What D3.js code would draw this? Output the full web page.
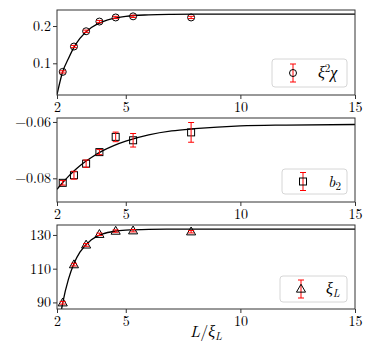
<!DOCTYPE html>
<html><head><meta charset="utf-8">
<script src="https://cdn.jsdelivr.net/npm/d3@7"></script>
<style>
body{margin:0;background:#fff;}
svg{display:block;}
svg text{font-family:"Latin Modern Roman","CMU Serif","Liberation Serif",serif !important;}
</style></head>
<body><svg id="c" width="378" height="344"></svg>
<script>
// ---- data ----
const xVals = [2.25, 2.74, 3.27, 3.85, 4.56, 5.32, 7.85];
const chiVals = [0.077, 0.145, 0.186, 0.212, 0.223, 0.226, 0.223];
const chiErr  = [0.003, 0.003, 0.003, 0.003, 0.003, 0.003, 0.003];
const b2Vals  = [-0.0816, -0.0789, -0.0748, -0.0707, -0.0653, -0.0665, -0.0637];
const b2Err   = [0.0008, 0.0014, 0.0013, 0.0009, 0.0017, 0.0024, 0.0035];
const xiVals  = [89.8, 112.4, 124.1, 130.4, 132.3, 132.5, 131.9];
const xiErr   = [0.8, 0.8, 0.8, 0.7, 0.7, 0.7, 0.7];
const fitX    = [2, 2.25, 2.5, 2.75, 3, 3.5, 4, 4.5, 5, 6, 7, 8, 10, 12, 15];
const chiFit  = [0.016, 0.078, 0.113, 0.144, 0.167, 0.196, 0.212, 0.221, 0.226, 0.230, 0.2315, 0.232, 0.232, 0.232, 0.232];
const b2Fit   = [-0.0839, -0.0815, -0.0793, -0.0773, -0.0755, -0.0726, -0.0702, -0.0683, -0.0668, -0.0646, -0.0632, -0.0624, -0.0614, -0.0611, -0.0609];
const xiFit   = [69.0, 89.8, 103.8, 113.4, 119.8, 127.2, 130.6, 132.2, 132.9, 133.35, 133.45, 133.5, 133.5, 133.5, 133.5];
const xTicks  = [2, 5, 10, 15];
const chiTicks = [0.1, 0.2];
const b2Ticks  = [-0.08, -0.06];
const xiTicks  = [90, 110, 130];
const xLabel = "L/ξL";

const svg = d3.select("#c");
const left = 57, right = 355;
const x = d3.scaleLinear().domain([2, 15]).range([left, right]);

const panels = [
  {top: 10, bottom: 95, domain: [0.015, 0.243], vals: chiVals, err: chiErr, fit: chiFit, ticks: chiTicks, fmt: d3.format(".1f"), marker: "circle", legend: [272, 347, 59, 87], leg: "chi"},
  {top: 118, bottom: 202, domain: [-0.0884, -0.0586], vals: b2Vals, err: b2Err, fit: b2Fit, ticks: b2Ticks, fmt: d3.format(".2f"), marker: "square", legend: [282, 347, 169, 194], leg: "b2"},
  {top: 225, bottom: 309, domain: [86.1, 135.9], vals: xiVals, err: xiErr, fit: xiFit, ticks: xiTicks, fmt: d3.format("d"), marker: "triangle", legend: [280, 347, 276, 302], leg: "xi"}
];

function drawMarker(g, type, cx, cy) {
  if (type === "circle") {
    g.append("circle").attr("cx", cx).attr("cy", cy).attr("r", 3.5)
      .attr("fill", "none").attr("stroke", "#000").attr("stroke-width", 1);
  } else if (type === "square") {
    g.append("rect").attr("x", cx - 3.5).attr("y", cy - 3.5).attr("width", 7).attr("height", 7)
      .attr("fill", "none").attr("stroke", "#000").attr("stroke-width", 1);
  } else {
    const s = d3.symbol().type(d3.symbolTriangle).size(36)();
    g.append("path").attr("d", s).attr("transform", `translate(${cx},${cy + 0.5})`)
      .attr("fill", "none").attr("stroke", "#000").attr("stroke-width", 1);
  }
}
function drawErr(g, cx, y1, y2) {
  g.append("line").attr("x1", cx).attr("x2", cx).attr("y1", y1).attr("y2", y2).attr("stroke", "red").attr("stroke-width", 1);
  [y1, y2].forEach(yy => g.append("line").attr("x1", cx - 3).attr("x2", cx + 3).attr("y1", yy).attr("y2", yy).attr("stroke", "red").attr("stroke-width", 1));
}

panels.forEach((p, i) => {
  const y = d3.scaleLinear().domain(p.domain).range([p.bottom, p.top]);
  const g = svg.append("g");
  const cid = "clip" + i;
  svg.append("clipPath").attr("id", cid).append("rect")
    .attr("x", left).attr("y", p.top).attr("width", right - left).attr("height", p.bottom - p.top);

  const xa = g.append("g").attr("transform", `translate(0,${p.bottom})`)
    .call(d3.axisBottom(x).tickValues(xTicks).tickSize(4).tickPadding(3).tickFormat(d3.format("d")));
  const ya = g.append("g").attr("transform", `translate(${left},0)`)
    .call(d3.axisLeft(y).tickValues(p.ticks).tickSize(4).tickPadding(2).tickFormat(p.fmt));
  [xa, ya].forEach(a => {
    a.attr("font-family", null);
    a.select(".domain").remove();
    a.selectAll("line").attr("stroke", "#333");
    a.selectAll("text").attr("font-size", 14).attr("fill", "#000");
  });

  const line = d3.line().x((d, j) => x(fitX[j])).y(d => y(d)).curve(d3.curveMonotoneX);
  g.append("path").datum(p.fit).attr("d", line).attr("clip-path", `url(#${cid})`)
    .attr("fill", "none").attr("stroke", "#000").attr("stroke-width", 1.3);

  const dg = g.append("g").attr("clip-path", `url(#${cid})`);
  p.vals.forEach((v, j) => {
    const cx = x(xVals[j]);
    drawMarker(dg, p.marker, cx, y(v));
    drawErr(dg, cx, y(v + p.err[j]), y(v - p.err[j]));
  });

  g.append("rect").attr("x", left).attr("y", p.top).attr("width", right - left).attr("height", p.bottom - p.top)
    .attr("fill", "none").attr("stroke", "#333").attr("stroke-width", 1);

  const [lx0, lx1, ly0, ly1] = p.legend;
  const lg = g.append("g");
  lg.append("rect").attr("x", lx0).attr("y", ly0).attr("width", lx1 - lx0).attr("height", ly1 - ly0)
    .attr("rx", 3).attr("fill", "#fff").attr("fill-opacity", 0.8).attr("stroke", "#d6d6d6").attr("stroke-width", 1);
  const hx = lx0 + 21, hy = (ly0 + ly1) / 2;
  drawErr(lg, hx, hy - 9, hy + 9);
  drawMarker(lg, p.marker, hx, hy);
  const t = lg.append("text").attr("x", hx + 25).attr("y", hy + 5).attr("font-size", 16);
  if (p.leg === "chi") {
    t.append("tspan").attr("font-style", "italic").text("ξ");
    t.append("tspan").attr("font-size", 11).attr("dy", -6).text("2");
    t.append("tspan").attr("font-style", "italic").attr("dy", 6).text("χ");
  } else if (p.leg === "b2") {
    t.append("tspan").attr("font-style", "italic").text("b");
    t.append("tspan").attr("font-size", 11).attr("dy", 3).text("2");
  } else {
    t.append("tspan").attr("font-style", "italic").text("ξ");
    t.append("tspan").attr("font-size", 11).attr("font-style", "italic").attr("dy", 3).text("L");
  }
});

const xl = svg.append("text").attr("x", (left + right) / 2).attr("y", 337).attr("text-anchor", "middle")
  .attr("font-size", 16);
xl.append("tspan").attr("font-style", "italic").text(xLabel.slice(0, 1));
xl.append("tspan").text(xLabel.slice(1, 2));
xl.append("tspan").attr("font-style", "italic").text(xLabel.slice(2, 3));
xl.append("tspan").attr("font-style", "italic").attr("font-size", 11).attr("dy", 3).text(xLabel.slice(3));
</script></body></html>
